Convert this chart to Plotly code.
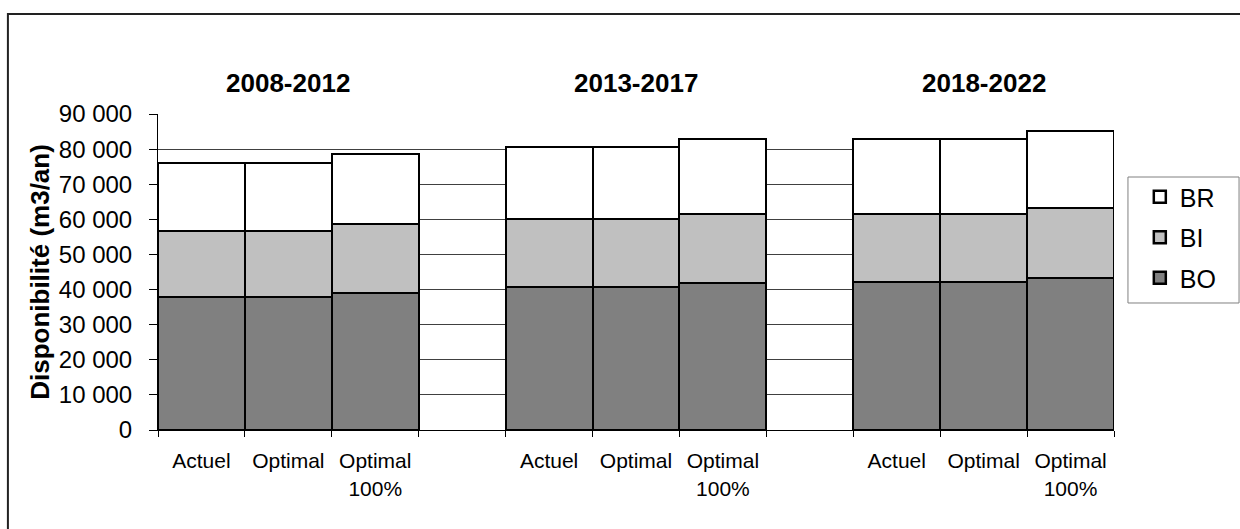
import plotly.graph_objects as go

# category slots: 3 bars per period, with an empty slot between periods
periods = ['2008-2012', '2013-2017', '2018-2022']
scenarios = ['Actuel', 'Optimal', 'Optimal<br>100%']

# segment values (m3/an), 3 scenarios per period
bo = [38000, 38000, 39000, 40800, 40800, 41800, 42200, 42200, 43200]
bi = [18700, 18700, 19600, 19200, 19200, 19700, 19200, 19200, 20100]
br = [19400, 19400, 19900, 20700, 20700, 21500, 21400, 21400, 22000]

y_ticks = [0, 10000, 20000, 30000, 40000, 50000, 60000, 70000, 80000, 90000]

# build the 11 slots (gap slots carry no value)
keys, labels, idx = [], [], []
for p_i, p in enumerate(periods):
    for s_i, s in enumerate(scenarios):
        keys.append(f'{p}|{s_i}')
        labels.append(s)
        idx.append(p_i * 3 + s_i)
    if p_i < len(periods) - 1:
        keys.append(f'gap{p_i}')
        labels.append('')
        idx.append(None)

def series(vals):
    return [vals[i] if i is not None else None for i in idx]

FONT = 'Liberation Sans, Arial, sans-serif'
LINE = dict(color='#000000', width=2.5)

fig = go.Figure()
# BO at the bottom of the stack, BR on top; legend lists BR first
for rank, (name, vals, col) in enumerate([('BO', bo, '#808080'), ('BI', bi, '#C0C0C0'),
                                          ('BR', br, '#FFFFFF')]):
    fig.add_trace(go.Bar(x=keys, y=series(vals), name=name, legendgroup=name,
                         legendrank=3 - rank,
                         marker=dict(color=col, line=LINE)))

# period titles above each group
for p_i, p in enumerate(periods):
    fig.add_annotation(text=f'<b>{p}</b>', x=f'{p}|1', xref='x', y=1.098, yref='paper',
                       showarrow=False, yanchor='middle',
                       font=dict(family=FONT, size=26, color='#000'))

# outer chart frame: only left and top edges are inside the page
fig.add_shape(type='path', xref='paper', yref='paper',
              path='M -0.157,-1 L -0.157,1.3165 L 2,1.3165',
              line=dict(color='#222', width=2), layer='below')
# legend box
fig.add_shape(type='rect', xref='paper', yref='paper',
              x0=1.0146, x1=1.1308, y0=0.4019, y1=0.8006,
              line=dict(color='#808080', width=1), layer='below')

fig.update_layout(
    width=1240, height=529,
    barmode='stack', bargap=0,
    paper_bgcolor='white', plot_bgcolor='white',
    separators=', ',
    font=dict(family=FONT, color='#000'),
    margin=dict(l=158, r=126, t=114, b=99, autoexpand=False),
    xaxis=dict(
        tickmode='array', tickvals=keys, ticktext=labels,
        tickson='boundaries', ticks='outside', ticklen=6, tickcolor='#000',
        showline=True, linecolor='#000', linewidth=1,
        showgrid=False, tickfont=dict(family=FONT, size=21),
        ticklabelstandoff=12, automargin=False,
    ),
    yaxis=dict(
        range=[0, 90000], tickvals=y_ticks, tickformat=',d',
        ticks='outside', ticklen=8, tickcolor='#000',
        showline=True, linecolor='#000', linewidth=1,
        showgrid=True, gridcolor='#404040', gridwidth=1, zeroline=False,
        tickfont=dict(family=FONT, size=24), ticklabelstandoff=12,
        automargin=False,
        title=dict(text='<b>Disponibilité (m3/an)</b>', font=dict(family=FONT, size=26),
                   standoff=1),
    ),
    legend=dict(
        x=1.027, y=0.81, xanchor='left', yanchor='top',
        traceorder='grouped', borderwidth=0, bgcolor='rgba(0,0,0,0)',
        font=dict(family=FONT, size=25), itemwidth=30, tracegroupgap=5,
    ),
    showlegend=True,
)

fig.write_html('out.html', config={'displayModeBar': False},
               post_script="document.body.style.margin='0';document.body.style.overflow='hidden';")
